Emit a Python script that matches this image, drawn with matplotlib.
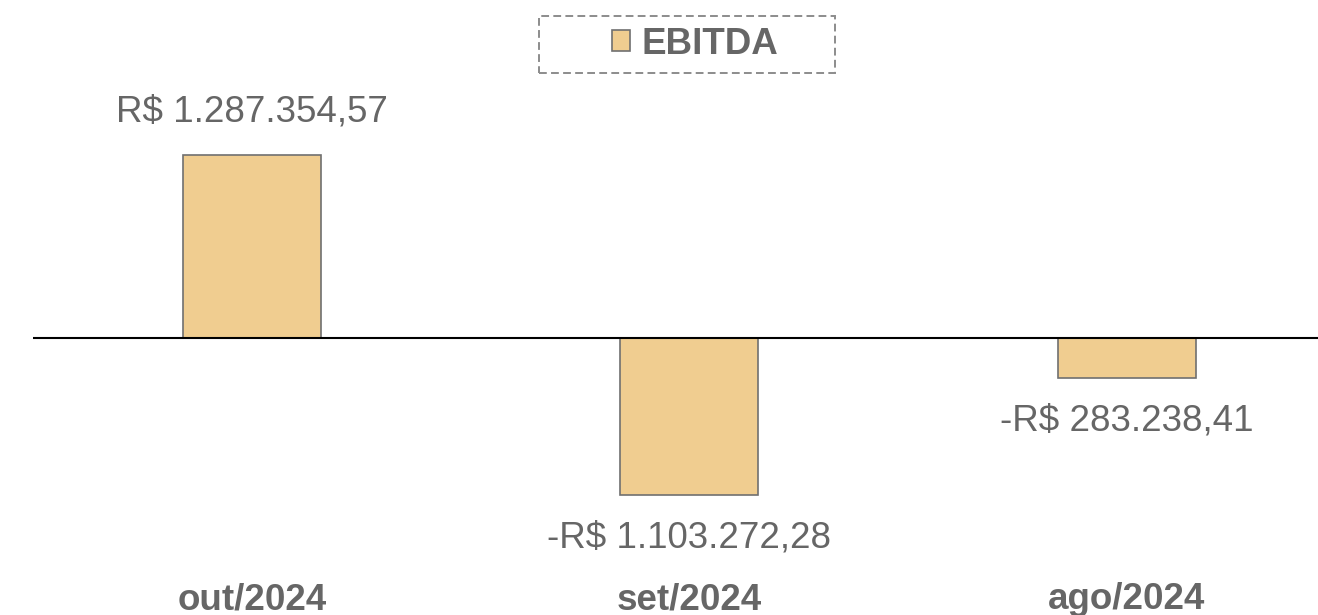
import matplotlib.pyplot as plt
from matplotlib.patches import Rectangle
import numpy as np

# dados
meses = ['out/2024', 'set/2024', 'ago/2024']
ebitda = [1287354.57, -1103272.28, -283238.41]

cor_barra = '#F0CD90'
cor_borda = '#707070'
cor_texto = '#666666'

plt.rcParams['font.family'] = ['Liberation Sans', 'DejaVu Sans']


def brl(v):
    s = f'{abs(v):,.2f}'.replace(',', 'X').replace('.', ',').replace('X', '.')
    return ('-R$ ' if v < 0 else 'R$ ') + s


fig = plt.figure(figsize=(13.18, 6.15), dpi=100)
ax = fig.add_axes([33 / 1318, 37 / 615, 1 - 33 / 1318, 488 / 615])

x = np.arange(len(meses))
barras = ax.bar(x, ebitda, width=0.315, color=cor_barra, edgecolor=cor_borda,
                linewidth=1.2, label='EBITDA', zorder=2)
ax.axhline(0, color='black', linewidth=1.5, zorder=3)

for b, v in zip(barras, ebitda):
    ax.annotate(brl(v), (b.get_x() + b.get_width() / 2, v),
                xytext=(0, 31 if v >= 0 else -31), textcoords='offset points',
                ha='center', va='center', fontsize=26.5, color=cor_texto)

ax.set_xlim(-0.5, 2.437)
ax.set_ylim(-1689600, 1745920)
ax.set_xticks(x)
ax.set_xticklabels(meses, fontsize=26.5, fontweight='bold', color=cor_texto)
ax.tick_params(axis='x', length=0, pad=3)
ax.set_yticks([])
for s in ax.spines.values():
    s.set_visible(False)

# legenda sem moldura + caixa tracejada mais larga
leg = fig.legend(handles=[barras], loc='center', bbox_to_anchor=(695 / 1318, 1 - 44 / 615),
                 prop={'size': 26.5, 'weight': 'bold'}, labelcolor=cor_texto,
                 handlelength=0.5, handleheight=0.5, handletextpad=0.3,
                 borderpad=0, borderaxespad=0, frameon=False)
caixa = Rectangle((539 / 1318, 1 - 73 / 615), 296 / 1318, 57 / 615,
                  transform=fig.transFigure, fill=False, edgecolor='#8c8c8c',
                  linewidth=1.4, linestyle=(0, (4, 2.2)))
fig.add_artist(caixa)

fig.savefig('out.png', dpi=100)
